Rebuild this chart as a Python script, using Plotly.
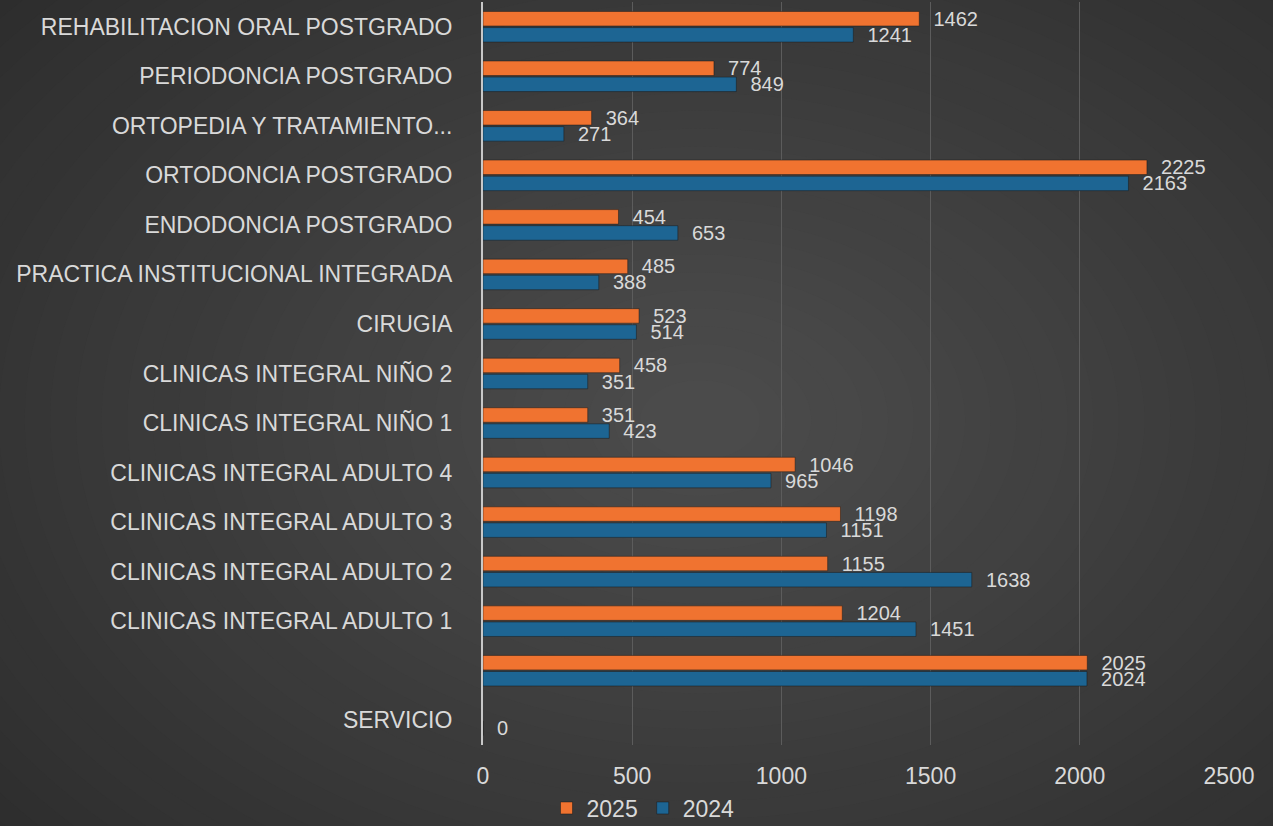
import plotly.graph_objects as go

categories = [
    "SERVICIO", " ",
    "CLINICAS INTEGRAL ADULTO 1", "CLINICAS INTEGRAL ADULTO 2",
    "CLINICAS INTEGRAL ADULTO 3", "CLINICAS INTEGRAL ADULTO 4",
    "CLINICAS INTEGRAL NIÑO 1", "CLINICAS INTEGRAL NIÑO 2",
    "CIRUGIA", "PRACTICA INSTITUCIONAL INTEGRADA",
    "ENDODONCIA POSTGRADO", "ORTODONCIA POSTGRADO",
    "ORTOPEDIA Y TRATAMIENTO...", "PERIODONCIA POSTGRADO",
    "REHABILITACION ORAL POSTGRADO",
]
values_2025 = [None, 2025, 1204, 1155, 1198, 1046, 351, 458, 523, 485, 454, 2225, 364, 774, 1462]
values_2024 = [0, 2024, 1451, 1638, 1151, 965, 423, 351, 514, 388, 653, 2163, 271, 849, 1241]
x_ticks = [0, 500, 1000, 1500, 2000, 2500]

ORANGE = "#f07330"
BLUE = "#1d6593"
TXT = "#d9d9d9"
FONT = "Liberation Sans, Arial, sans-serif"

fig = go.Figure()
fig.add_trace(go.Bar(
    y=categories, x=values_2024, name="2024", orientation="h",
    marker=dict(color=BLUE, line=dict(color="#1a1a1a", width=0.5)),
    text=values_2024, texttemplate="  %{x}", textposition="outside", constraintext="none",
    textfont=dict(color=TXT, size=20, family=FONT), cliponaxis=False,
))
fig.add_trace(go.Bar(
    y=categories, x=values_2025, name="2025", orientation="h",
    marker=dict(color=ORANGE, line=dict(color="#1a1a1a", width=0.5)),
    text=values_2025, texttemplate="  %{x}", textposition="outside", constraintext="none",
    textfont=dict(color=TXT, size=20, family=FONT), cliponaxis=False,
))

W, H = 1273, 826
L, R, T, B = 483, 44, 2, 81
pw, ph = W - L - R, H - T - B

def px2paper_x(px):
    return (px - L) / pw

def px2paper_y(py):
    return (H - B - py) / ph

# radial background gradient approximated by concentric ellipses
shapes = []
n = 40
cx, cy = 700, 420
for i in range(n):
    f = i / (n - 1)
    rx = 1000 * (1 - f) + 60
    ry = 700 * (1 - f) + 40
    c = int(round(0x29 + (0x4b - 0x29) * f))
    col = f"rgb({c},{c},{c})"
    shapes.append(dict(
        type="circle", xref="paper", yref="paper", layer="below",
        x0=px2paper_x(cx - rx), x1=px2paper_x(cx + rx),
        y0=px2paper_y(cy + ry), y1=px2paper_y(cy - ry),
        fillcolor=col, line=dict(width=0),
    ))

fig.update_layout(
    width=W, height=H,
    margin=dict(l=L, r=R, t=T, b=B, pad=0, autoexpand=False),
    paper_bgcolor="#292929", plot_bgcolor="rgba(0,0,0,0)",
    barmode="group", bargap=0.35, bargroupgap=0.1,
    shapes=shapes,
    font=dict(family=FONT, color=TXT, size=21),
    showlegend=True,
    legend=dict(orientation="h", x=0.2145, xanchor="center",
                yref="container", y=(H - 808) / H, yanchor="middle",
                traceorder="reversed", font=dict(size=23, color=TXT, family=FONT),
                bgcolor="rgba(0,0,0,0)", itemwidth=30, tracegroupgap=0),
    xaxis=dict(range=[0, 2500], tickvals=x_ticks, showgrid=True, gridcolor="#5c5c5c",
               gridwidth=1, zeroline=False, showline=False, ticks="", automargin=False,
               tickfont=dict(size=23, color=TXT), ticklabelstandoff=15, fixedrange=True),
    yaxis=dict(categoryorder="array", categoryarray=categories, type="category",
               showgrid=False, zeroline=False, showline=True, linecolor="#c8c8c8", linewidth=2,
               ticks="", tickfont=dict(size=23, color=TXT), ticklabelstandoff=24, automargin=False,
               range=[-0.5, len(categories) - 0.5]),
)

fig.write_html("out.html")
